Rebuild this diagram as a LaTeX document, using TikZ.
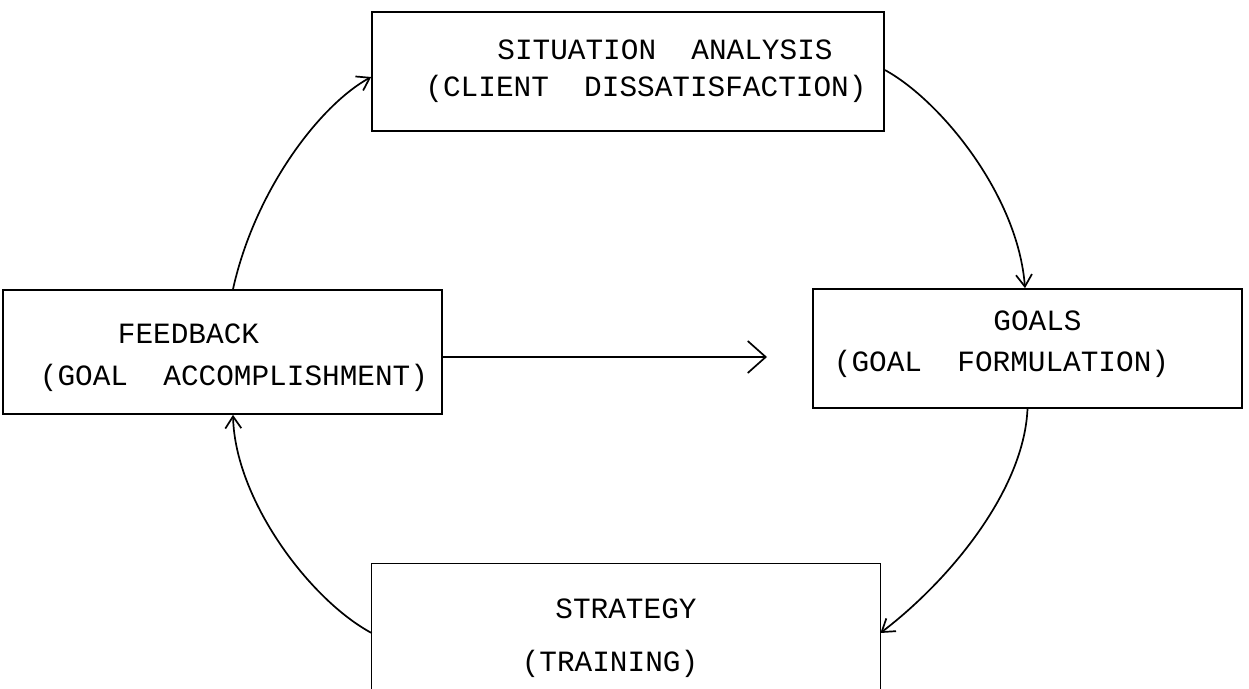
\documentclass[tikz,border=0pt]{standalone}
\usepackage{fontspec}
\setmonofont{Liberation Mono}
\usetikzlibrary{arrows.meta}
\begin{document}
\begin{tikzpicture}[x=0.5pt,y=-0.5pt,
  box/.style={draw,line width=0.85pt,inner sep=0pt,rectangle},
  openbox/.style={inner sep=0pt,rectangle},
  lbl/.style={inner sep=0pt,anchor=base,font=\ttfamily\fontsize{14.7}{17}\selectfont},
  conn/.style={line width=0.85pt,-{Straight Barb[length=6pt,width=8pt,line width=0.85pt]}},
  bigarrow/.style={line width=0.85pt,-{Straight Barb[length=9pt,width=16pt,line width=0.85pt]}}]
\useasboundingbox (0,0) rectangle (1249,689);
% boxes
\node[box,minimum width=256pt,minimum height=59.5pt] (sit) at (628,71.5) {};
\node[box,minimum width=219.5pt,minimum height=62pt] (fb) at (222.5,352) {};
\node[box,minimum width=214.5pt,minimum height=59.5pt] (goals) at (1027.5,348.5) {};
\node[openbox,minimum width=254pt,minimum height=62.5pt] (strat) at (626,626.5) {};
\draw[line width=0.85pt] (strat.south west) -- (strat.north west) -- (strat.north east) -- (strat.south east);
% texts
\node[lbl] (sit1) at (665,59.5) {SITUATION\ \ ANALYSIS};
\node[lbl] (sit2) at (646,96.5) {(CLIENT\ \ DISSATISFACTION)};
\node[lbl] (fb1) at (188.5,343.4) {FEEDBACK};
\node[lbl] (fb2) at (234,385.4) {(GOAL\ \ ACCOMPLISHMENT)};
\node[lbl] (goals1) at (1037.5,330.4) {GOALS};
\node[lbl] (goals2) at (1001.5,371.4) {(GOAL\ \ FORMULATION)};
\node[lbl] (strat1) at (626,618.4) {STRATEGY};
\node[lbl] (strat2) at (610,671.4) {(TRAINING)};
% connectors
\draw[conn] ([xshift=5.25pt]fb.north) .. controls (255,190) and (320,105) .. ([yshift=-2.75pt]sit.west);
\draw[conn] ([yshift=0.75pt]sit.east) .. controls (940,100) and (1018,195) .. ([xshift=-1.25pt]goals.north);
\draw[conn] (goals.south) .. controls (1024,490) and (950,580) .. ([yshift=-3.25pt]strat.east);
\draw[conn] ([yshift=-3.25pt]strat.west) .. controls (310,600) and (235,500) .. ([xshift=5.25pt]fb.south);
\coordinate (fbend) at (767,357);
\draw[bigarrow] ([yshift=-2.5pt]fb.east) -- (fbend);
\end{tikzpicture}
\end{document}
